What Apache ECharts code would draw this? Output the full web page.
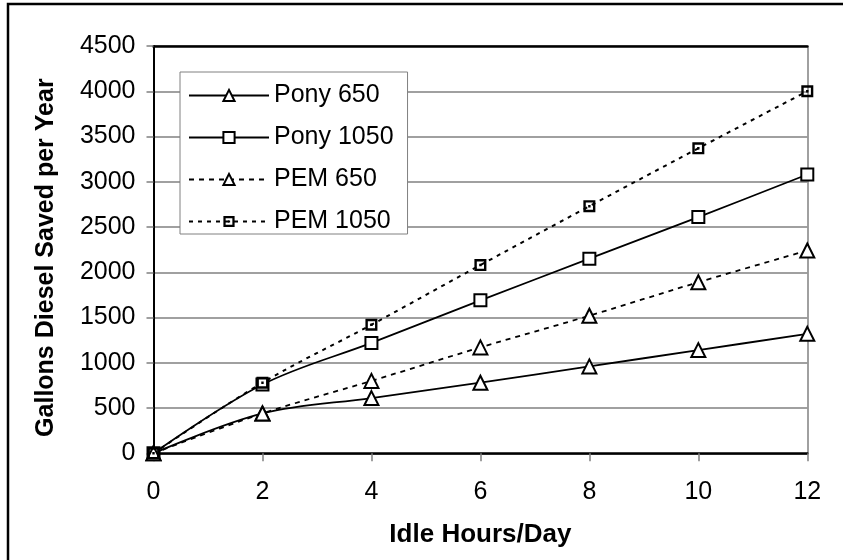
<!DOCTYPE html>
<html>
<head>
<meta charset="utf-8">
<script src="https://cdn.jsdelivr.net/npm/echarts@6/dist/echarts.min.js"></script>
<style>html,body{margin:0;padding:0;background:#fff;}#c{width:843px;height:560px;}</style>
</head>
<body>
<div id="c"></div>
<script>
var hours = [0, 2, 4, 6, 8, 10, 12];
var pony650 = [0, 440, 610, 780, 960, 1140, 1320];
var pony1050 = [0, 760, 1220, 1690, 2150, 2610, 3080];
var pem650 = [0, 440, 800, 1170, 1520, 1890, 2240];
var pem1050 = [0, 780, 1420, 2080, 2730, 3370, 4000];
var seriesNames = ['Pony 650', 'Pony 1050', 'PEM 650', 'PEM 1050'];
var xTitle = 'Idle Hours/Day';
var yTitle = 'Gallons Diesel Saved per Year';

function pairs(vals) { return hours.map(function (h, i) { return [h, vals[i]]; }); }

var FONT = '"Liberation Sans", Arial, sans-serif';
var chart = echarts.init(document.getElementById('c'), null, {renderer: 'canvas'});
var tri = {symbol: 'triangle', symbolSize: 14, itemStyle: {color: '#fff', borderColor: '#000', borderWidth: 2}};
var sq = {symbol: 'rect', symbolSize: 12, itemStyle: {color: '#fff', borderColor: '#000', borderWidth: 2}};
var sqDot = {symbol: 'path://M0,0 L10,0 L10,10 L0,10 Z M2,2 L2,8 L8,8 L8,2 Z M4,4 L6,4 L6,6 L4,6 Z', symbolSize: 12, itemStyle: {color: '#000', borderWidth: 0}};

function mk(name, vals, sym, ls) {
  return Object.assign({
    name: name, type: 'line', data: pairs(vals), smooth: 0.35,
    showAllSymbol: true, lineStyle: ls, z: 3, animation: false,
    emphasis: {disabled: true}
  }, sym);
}

chart.setOption({
  animation: false,
  textStyle: {fontFamily: FONT},
  grid: {left: 153.5, right: 35.7, top: 46, bottom: 106.7, containLabel: false},
  graphic: [{
    type: 'rect', shape: {x: 8, y: 4, width: 900, height: 600},
    style: {fill: 'none', stroke: '#000', lineWidth: 2.5}, z: 100, silent: true
  }],
  legend: {
    orient: 'vertical', left: 180, top: 72,
    data: seriesNames,
    backgroundColor: '#fff', borderColor: '#808080', borderWidth: 1,
    padding: [11, 14, 0, 8],
    itemWidth: 80, itemHeight: 14, itemGap: 17,
    textStyle: {fontFamily: FONT, fontSize: 25, color: '#000'},
    selectedMode: false
  },
  xAxis: [{
    type: 'value', min: 0, max: 12, interval: 2,
    name: xTitle, nameLocation: 'middle', nameGap: 69,
    nameTextStyle: {fontFamily: FONT, fontSize: 26, fontWeight: 'bold', color: '#000'},
    axisLine: {show: true, onZero: false, lineStyle: {color: '#000', width: 2.5}},
    axisTick: {show: true, inside: false, length: 8, lineStyle: {color: '#808080', width: 1.5}},
    axisLabel: {fontFamily: FONT, fontSize: 25, color: '#000', margin: 26},
    splitLine: {show: false}
  }, {
    type: 'value', min: 0, max: 12, position: 'top',
    axisLine: {show: true, onZero: false, lineStyle: {color: '#000', width: 2.5}},
    axisTick: {show: false}, axisLabel: {show: false}, splitLine: {show: false}
  }],
  yAxis: [{
    type: 'value', min: 0, max: 4500, interval: 500,
    name: yTitle, nameLocation: 'middle', nameGap: 95,
    nameTextStyle: {fontFamily: FONT, fontSize: 25, fontWeight: 'bold', color: '#000', padding: [0, 16, 0, 0]},
    axisLine: {show: true, onZero: false, lineStyle: {color: '#000', width: 2}},
    axisTick: {show: true, inside: false, length: 7, lineStyle: {color: '#808080', width: 1.5}},
    axisLabel: {fontFamily: FONT, fontSize: 25, color: '#000', margin: 18,
      formatter: function (v) { return String(v); }},
    splitLine: {show: true, lineStyle: {color: '#808080', width: 1.5}}
  }, {
    type: 'value', min: 0, max: 4500, position: 'right',
    axisLine: {show: true, onZero: false, lineStyle: {color: '#808080', width: 1.5}},
    axisTick: {show: false}, axisLabel: {show: false}, splitLine: {show: false}
  }],
  series: [
    mk(seriesNames[0], pony650, tri, {color: '#000', width: 1.8, type: 'solid'}),
    mk(seriesNames[1], pony1050, sq, {color: '#000', width: 1.8, type: 'solid'}),
    mk(seriesNames[2], pem650, tri, {color: '#000', width: 1.8, type: [5, 5]}),
    mk(seriesNames[3], pem1050, sqDot, {color: '#000', width: 2, type: [4, 5]})
  ]
});
</script>
</body>
</html>
